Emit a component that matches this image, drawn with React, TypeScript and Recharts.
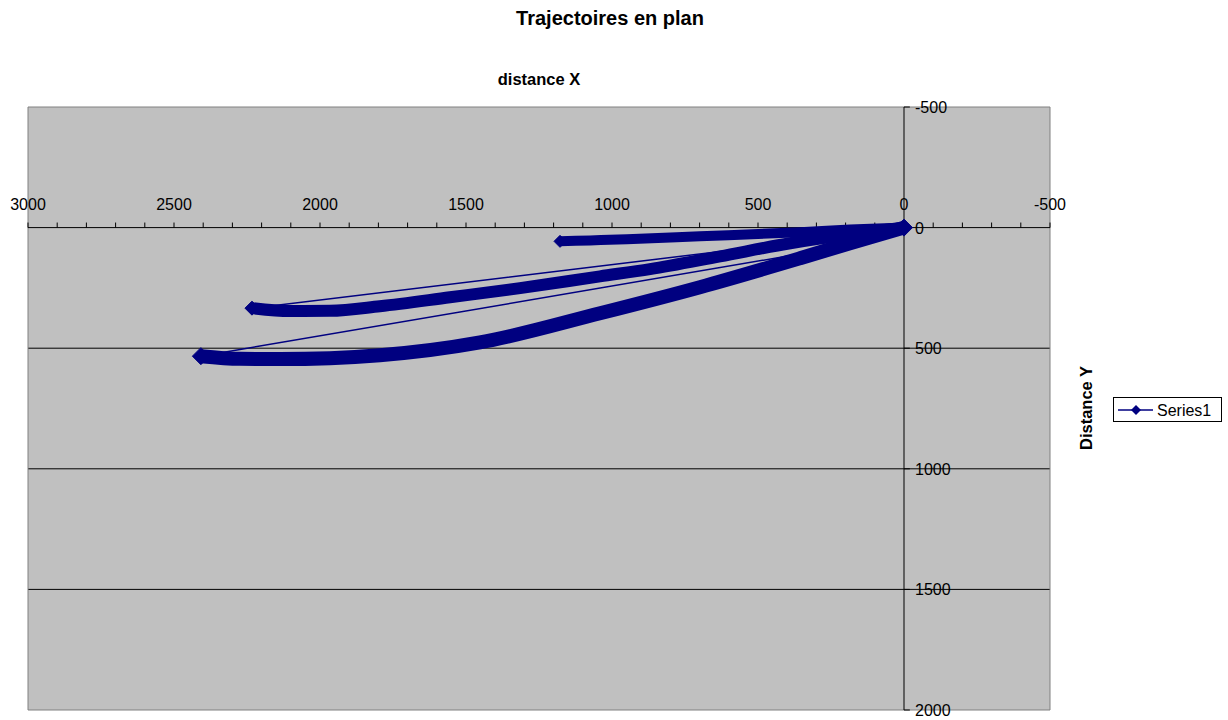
import { ScatterChart, Scatter, XAxis, YAxis, CartesianGrid, ReferenceLine, ReferenceDot } from 'recharts';

const NAVY = '#000080';
const FONT = '"Liberation Sans", Arial, sans-serif';

// trajectoires (x = distance X, y = distance Y)
const trajA = [
  { x: 0, y: 0 },
  { x: 185, y: 8 },
  { x: 356, y: 19 },
  { x: 699, y: 36 },
  { x: 949, y: 48 },
  { x: 1075, y: 53 },
  { x: 1178, y: 57 },
];

const trajB = [
  { x: 0, y: 0 },
  { x: 185, y: 28 },
  { x: 390, y: 65 },
  { x: 630, y: 119 },
  { x: 870, y: 172 },
  { x: 1041, y: 202 },
  { x: 1315, y: 251 },
  { x: 1555, y: 289 },
  { x: 1795, y: 326 },
  { x: 1966, y: 345 },
  { x: 2103, y: 346 },
  { x: 2233, y: 334 },
];

const trajC = [
  { x: 0, y: 0 },
  { x: 185, y: 65 },
  { x: 356, y: 127 },
  { x: 699, y: 247 },
  { x: 1041, y: 355 },
  { x: 1452, y: 476 },
  { x: 1795, y: 529 },
  { x: 2137, y: 545 },
  { x: 2274, y: 544 },
  { x: 2408, y: 533 },
];

// retours en fin de trajectoire
const jump1 = { x: 281, y: 48 };
const jump2 = { x: 264, y: 90 };

const seriesPath = [...[...trajA].reverse(), ...trajB, jump1, ...trajC, jump2];

const xLabels = [3000, 2500, 2000, 1500, 1000, 500, 0, -500];
const xMinor: number[] = [];
for (let v = -500; v <= 3000; v += 100) xMinor.push(v);
const yLabels = [-500, 0, 500, 1000, 1500, 2000];
const gridY = [500, 1000, 1500];

// marqueur losange, seulement aux extrémités de la trajectoire
const endDiamond = (data: { x: number; y: number }[], half: number) => (p: any) => {
  const { cx, cy, payload } = p;
  const first = data[0];
  const last = data[data.length - 1];
  const isEnd =
    payload && ((payload.x === first.x && payload.y === first.y) || (payload.x === last.x && payload.y === last.y));
  if (cx == null || cy == null || !isEnd) return <g />;
  return (
    <polygon
      points={`${cx - half},${cy} ${cx},${cy - half} ${cx + half},${cy} ${cx},${cy + half}`}
      fill={NAVY}
      stroke={NAVY}
    />
  );
};

export default function App() {
  return (
    <div style={{ position: 'absolute', left: 0, top: 0, width: 1228, height: 720, background: '#fff', fontFamily: FONT }}>
      <ScatterChart width={1228} height={720} margin={{ top: 107, right: 178, bottom: 10, left: 28 }}>
        <CartesianGrid fill="#C0C0C0" horizontal={false} vertical={false} />
        <XAxis type="number" dataKey="x" domain={[-500, 3000]} reversed hide allowDataOverflow />
        <YAxis type="number" dataKey="y" domain={[-500, 2000]} reversed hide allowDataOverflow />

        {gridY.map((v) => (
          <ReferenceLine key={'g' + v} y={v} stroke="#000" strokeWidth={1} />
        ))}
        <ReferenceLine y={-500} stroke="#808080" />
        <ReferenceLine y={2000} stroke="#808080" />
        <ReferenceLine x={3000} stroke="#808080" />
        <ReferenceLine x={-500} stroke="#808080" />

        <ReferenceLine y={0} stroke="#000" strokeWidth={1} />
        <ReferenceLine x={0} stroke="#000" strokeWidth={1} />

        {xMinor.map((v) => (
          <ReferenceLine key={'xt' + v} segment={[{ x: v, y: 0 }, { x: v, y: -21 }]} stroke="#000" />
        ))}
        {yLabels.map((v) => (
          <ReferenceLine key={'yt' + v} segment={[{ x: 0, y: v }, { x: -20, y: v }]} stroke="#000" />
        ))}

        {xLabels.map((v) => (
          <ReferenceDot
            key={'xl' + v}
            x={v}
            y={0}
            r={0}
            shape={(p: any) => (
              <text x={p.cx} y={p.cy - 18} textAnchor="middle" fontSize={16} fontFamily={FONT} fill="#000">
                {v}
              </text>
            )}
          />
        ))}
        {yLabels.map((v) => (
          <ReferenceDot
            key={'yl' + v}
            x={0}
            y={v}
            r={0}
            shape={(p: any) => (
              <text x={p.cx + 11} y={p.cy + 6} textAnchor="start" fontSize={16} fontFamily={FONT} fill="#000">
                {v}
              </text>
            )}
          />
        ))}

        <Scatter
          data={trajA}
          legendType="none"
          line={{ stroke: NAVY, strokeWidth: 10, strokeLinejoin: 'round' }}
          lineJointType="monotoneX"
          shape={endDiamond(trajA, 6)}
          isAnimationActive={false}
        />
        <Scatter
          data={trajB}
          legendType="none"
          line={{ stroke: NAVY, strokeWidth: 12, strokeLinejoin: 'round' }}
          lineJointType="monotoneX"
          shape={endDiamond(trajB, 7)}
          isAnimationActive={false}
        />
        <Scatter
          data={trajC}
          legendType="none"
          line={{ stroke: NAVY, strokeWidth: 14, strokeLinejoin: 'round' }}
          lineJointType="monotoneX"
          shape={endDiamond(trajC, 8.5)}
          isAnimationActive={false}
        />
        <Scatter
          name="Series1"
          data={seriesPath}
          line={{ stroke: NAVY, strokeWidth: 1.5 }}
          lineJointType="linear"
          shape={() => <g />}
          isAnimationActive={false}
        />
      </ScatterChart>

      <svg width={1228} height={720} style={{ position: 'absolute', left: 0, top: 0, pointerEvents: 'none' }}>
        <text x={610} y={25} textAnchor="middle" fontSize={20} fontWeight="bold" fontFamily={FONT}>
          Trajectoires en plan
        </text>
        <text x={539} y={85} textAnchor="middle" fontSize={16.5} fontWeight="bold" fontFamily={FONT}>
          distance X
        </text>
        <text
          transform="translate(1092, 408) rotate(-90)"
          textAnchor="middle"
          fontSize={16.5}
          fontWeight="bold"
          fontFamily={FONT}
        >
          Distance Y
        </text>
        <rect x={1113.5} y={397.5} width={108} height={24} fill="#fff" stroke="#000" />
        <line x1={1118} y1={410} x2={1153} y2={410} stroke={NAVY} strokeWidth={1.5} />
        <polygon points="1131,410 1136,405 1141,410 1136,415" fill={NAVY} />
        <text x={1157} y={416} fontSize={16} fontFamily={FONT}>
          Series1
        </text>
      </svg>
    </div>
  );
}
